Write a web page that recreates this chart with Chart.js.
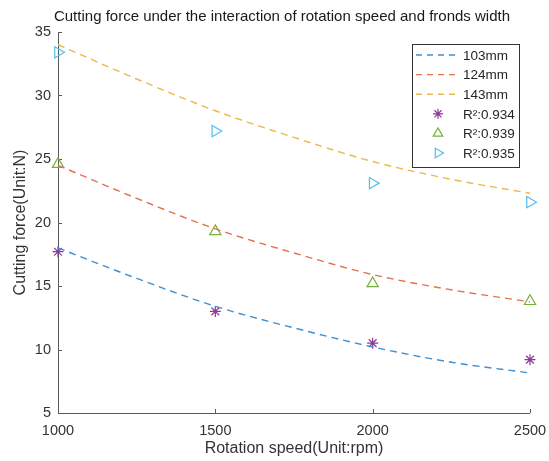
<!DOCTYPE html>
<html>
<head>
<meta charset="utf-8">
<script src="https://cdn.jsdelivr.net/npm/chart.js@4.4.1/dist/chart.umd.min.js"></script>
<style>
  html, body { margin: 0; padding: 0; background: #fff; }
</style>
</head>
<body>
<canvas id="myChart" width="549" height="461"></canvas>
<script>
  // measured points
  var speeds = [1000, 1500, 2000, 2500];
  var force103 = [17.7, 13.0, 10.5, 9.2];
  var force124 = [24.6, 19.3, 15.2, 13.8];
  var force143 = [33.4, 27.2, 23.1, 21.6];

  // fitted curves
  var fitSpeeds = [1000, 1250, 1500, 1750, 2000, 2250, 2500];
  var fit103 = [18.0, 15.6, 13.4, 11.7, 10.2, 9.0, 8.15];
  var fit124 = [24.5, 21.9, 19.5, 17.6, 15.9, 14.7, 13.75];
  var fit143 = [34.0, 31.3, 28.8, 26.7, 24.8, 23.4, 22.3];

  var fitLabels = ["103mm", "124mm", "143mm"];
  var r2Labels = ["R²:0.934", "R²:0.939", "R²:0.935"];
  var xTicks = [1000, 1500, 2000, 2500];
  var yTicks = [5, 10, 15, 20, 25, 30, 35];

  var FONT = '"Liberation Sans", Arial, sans-serif';
  var lineColors = ["#3f8fd4", "#e2714e", "#ecb84c"];
  var markColors = ["#8b3a98", "#7aae3a", "#55bdea"];

  function pts(xs, ys) {
    return xs.map(function (x, i) { return { x: x, y: ys[i] }; });
  }

  function fitSet(label, ys, color) {
    return {
      label: label,
      data: pts(fitSpeeds, ys),
      borderColor: color,
      borderWidth: 1.4,
      borderDash: [7, 5],
      pointRadius: 0,
      fill: false,
      cubicInterpolationMode: "monotone"
    };
  }

  function markSet(label, ys, color, style, r, rot) {
    return {
      label: label,
      data: pts(speeds, ys),
      showLine: false,
      clip: false,
      borderColor: color,
      backgroundColor: "rgba(0,0,0,0)",
      pointStyle: style,
      pointRadius: r,
      pointRotation: rot,
      pointBorderWidth: 1.2,
      pointHoverRadius: r
    };
  }

  var datasets = [
    fitSet(fitLabels[0], fit103, lineColors[0]),
    fitSet(fitLabels[1], fit124, lineColors[1]),
    fitSet(fitLabels[2], fit143, lineColors[2]),
    markSet(r2Labels[0], force103, markColors[0], "star", 5.5, 0),
    markSet(r2Labels[1], force124, markColors[1], "triangle", 6.5, 0),
    markSet(r2Labels[2], force143, markColors[2], "triangle", 6.5, 90)
  ];

  function drawMarker(ctx, style, x, y, r, rot) {
    ctx.beginPath();
    if (style === "star") {
      for (var k = 0; k < 4; k++) {
        var a = k * Math.PI / 4;
        ctx.moveTo(x + Math.sin(a) * r, y - Math.cos(a) * r);
        ctx.lineTo(x - Math.sin(a) * r, y + Math.cos(a) * r);
      }
    } else {
      var rad = rot * Math.PI / 180;
      ctx.moveTo(x + Math.sin(rad) * r, y - Math.cos(rad) * r);
      rad += 2 * Math.PI / 3;
      ctx.lineTo(x + Math.sin(rad) * r, y - Math.cos(rad) * r);
      rad += 2 * Math.PI / 3;
      ctx.lineTo(x + Math.sin(rad) * r, y - Math.cos(rad) * r);
      ctx.closePath();
    }
    ctx.stroke();
  }

  // matlab style axes: left + bottom line with inward ticks
  var axesPlugin = {
    id: "matlabAxes",
    beforeDatasetsDraw: function (chart) {
      var ctx = chart.ctx, a = chart.chartArea;
      var xs = chart.scales.x, ys = chart.scales.y;
      ctx.save();
      ctx.strokeStyle = "#595959";
      ctx.lineWidth = 1;
      ctx.beginPath();
      ctx.moveTo(a.left + 0.5, a.top);
      ctx.lineTo(a.left + 0.5, a.bottom + 0.5);
      ctx.lineTo(a.right, a.bottom + 0.5);
      xTicks.forEach(function (v) {
        var px = Math.round(xs.getPixelForValue(v)) + 0.5;
        ctx.moveTo(px, a.bottom);
        ctx.lineTo(px, a.bottom - 4);
      });
      yTicks.forEach(function (v) {
        var py = Math.round(ys.getPixelForValue(v)) + 0.5;
        ctx.moveTo(a.left, py);
        ctx.lineTo(a.left + 4, py);
      });
      ctx.stroke();
      ctx.restore();
    },
    afterDraw: function (chart) {
      var ctx = chart.ctx;
      ctx.save();
      ctx.fillStyle = "#1a1a1a";
      ctx.font = "15px " + FONT;
      ctx.textAlign = "center";
      ctx.textBaseline = "middle";
      ctx.fillText("Cutting force under the interaction of rotation speed and fronds width", 282, 17);
      ctx.restore();
    }
  };

  var legendPlugin = {
    id: "insideLegend",
    afterDatasetsDraw: function (chart) {
      var ctx = chart.ctx;
      var bx = 412, by = 44, bw = 107, bh = 123;
      ctx.save();
      ctx.fillStyle = "#fff";
      ctx.fillRect(bx, by, bw, bh);
      ctx.strokeStyle = "#333";
      ctx.lineWidth = 1;
      ctx.strokeRect(bx + 0.5, by + 0.5, bw, bh);
      ctx.font = "13.5px " + FONT;
      ctx.textBaseline = "middle";
      chart.data.datasets.forEach(function (ds, i) {
        var yy = by + 11 + i * 19.6;
        ctx.strokeStyle = ds.borderColor;
        if (ds.showLine === false) {
          ctx.lineWidth = 1.2;
          ctx.setLineDash([]);
          drawMarker(ctx, ds.pointStyle, 438, yy, ds.pointStyle === "star" ? 5 : 5.5, ds.pointRotation);
        } else {
          ctx.lineWidth = 1.4;
          ctx.setLineDash([6, 5]);
          ctx.beginPath();
          ctx.moveTo(416, yy);
          ctx.lineTo(460, yy);
          ctx.stroke();
          ctx.setLineDash([]);
        }
        ctx.fillStyle = "#262626";
        ctx.fillText(ds.label, 463, yy + 1);
      });
      ctx.restore();
    }
  };

  var ctx = document.getElementById("myChart");

  var chart = new Chart(ctx, {
    type: "line",
    data: { datasets: datasets },
    options: {
      responsive: false,
      animation: false,
      layout: { padding: { top: 32, right: 19, left: 0, bottom: 0 } },
      plugins: {
        legend: { display: false },
        title: { display: false },
        tooltip: { enabled: false }
      },
      elements: { line: { tension: 0.4 } },
      scales: {
        x: {
          type: "linear",
          min: 1000,
          max: 2500,
          afterBuildTicks: function (s) { s.ticks = xTicks.map(function (v) { return { value: v }; }); },
          afterFit: function (s) { s.height = 48; s.paddingRight = 0; s.paddingLeft = 0; },
          grid: { display: false, drawTicks: false },
          border: { display: false },
          ticks: {
            font: { size: 14.5, family: FONT }, color: "#333", padding: 9, maxRotation: 0, autoSkip: false,
            callback: function (v) { return String(v); }
          },
          title: { display: true, text: "Rotation speed(Unit:rpm)", font: { size: 16, family: FONT }, color: "#333", padding: { top: 0, bottom: 3 } }
        },
        y: {
          min: 5,
          max: 35,
          afterBuildTicks: function (s) { s.ticks = yTicks.map(function (v) { return { value: v }; }); },
          afterFit: function (s) { s.width = 58; },
          grid: { display: false, drawTicks: false },
          border: { display: false },
          ticks: { font: { size: 14.5, family: FONT }, color: "#333", padding: 7, autoSkip: false },
          title: { display: true, text: "Cutting force(Unit:N)", font: { size: 16, family: FONT }, color: "#333", padding: { top: 11, bottom: 0 } }
        }
      }
    },
    plugins: [axesPlugin, legendPlugin]
  });
</script>
</body>
</html>
